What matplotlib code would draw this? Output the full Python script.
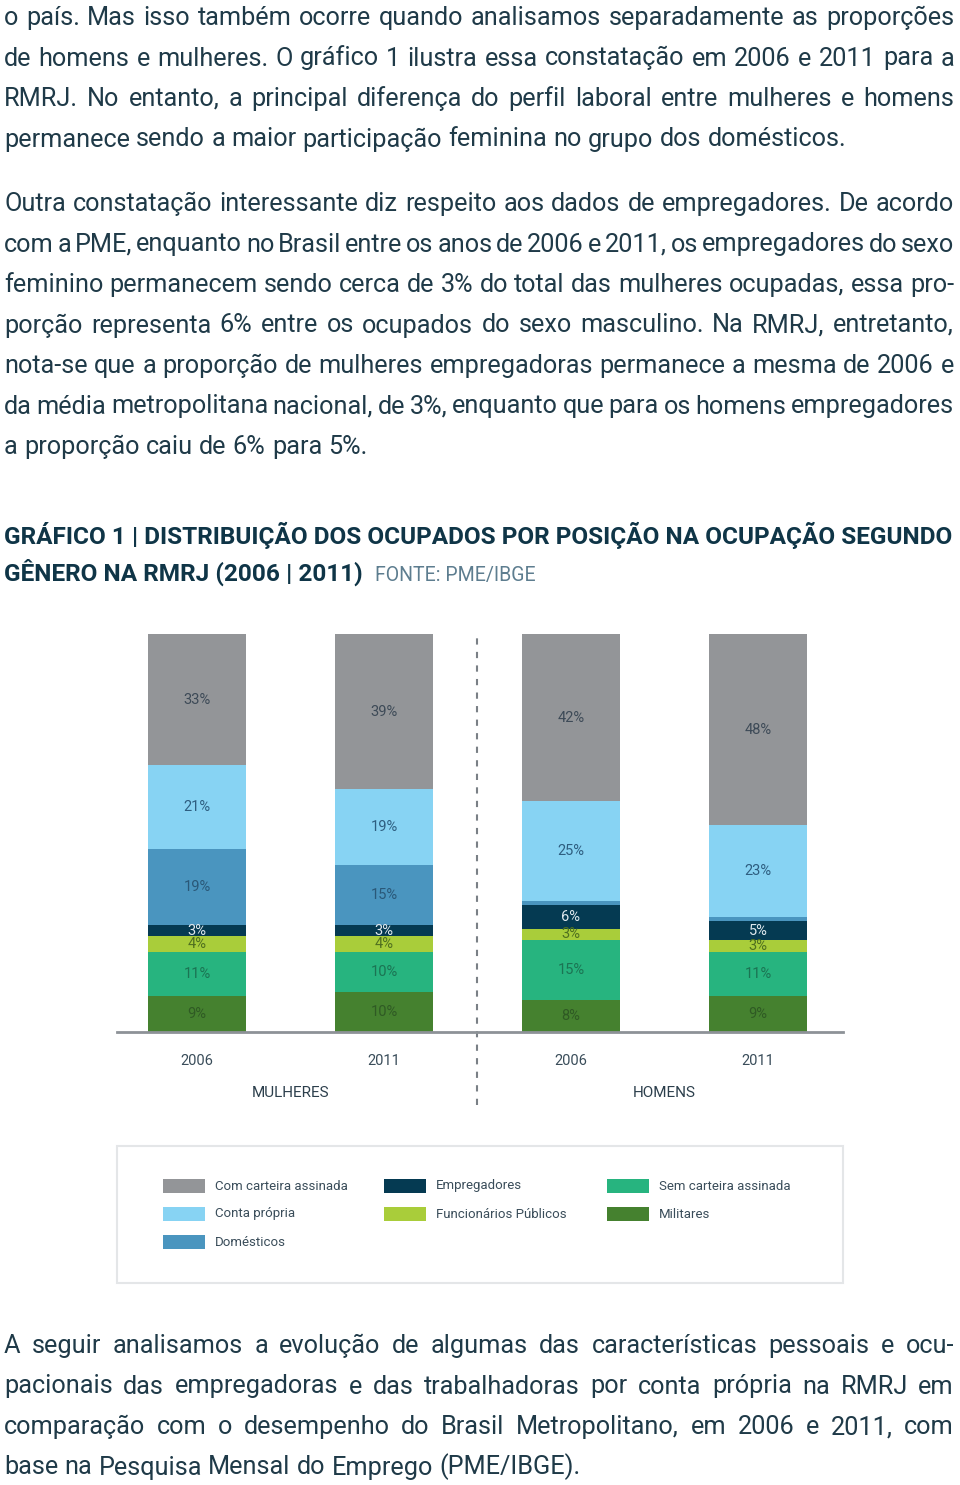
import matplotlib.pyplot as plt
from matplotlib.patches import Rectangle
import numpy as np

# --- data ---
years = ["2006", "2011", "2006", "2011"]
groups = ["MULHERES", "HOMENS"]
categories = ["Militares", "Sem carteira assinada", "Funcionários Públicos",
              "Empregadores", "Domésticos", "Conta própria", "Com carteira assinada"]
militares   = [9, 10, 8, 9]
sem_cart    = [11, 10, 15, 11]
func_pub    = [4, 4, 3, 3]
empregador  = [3, 3, 6, 5]
domesticos  = [19, 15, 1, 1]
conta_prop  = [21, 19, 25, 23]
com_cart    = [33, 39, 42, 48]
series = [militares, sem_cart, func_pub, empregador, domesticos, conta_prop, com_cart]

colors = ["#45812f", "#27b47f", "#a9cd3a", "#053a52", "#4a95bf", "#87d3f3", "#939598"]
lab_colors = ["#2f5a24", "#1b7453", "#50701f", "#dfe8ee", "#2a5878", "#2e5e80", "#3d4a57"]

legend_order = ["Com carteira assinada", "Conta própria", "Domésticos",
                "Empregadores", "Funcionários Públicos",
                "Sem carteira assinada", "Militares"]

para1 = ["o país. Mas isso também ocorre quando analisamos separadamente as proporções",
         "de homens e mulheres. O gráfico 1 ilustra essa constatação em 2006 e 2011 para a",
         "RMRJ. No entanto, a principal diferença do perfil laboral entre mulheres e homens",
         "permanece sendo a maior participação feminina no grupo dos domésticos."]
para2 = ["Outra constatação interessante diz respeito aos dados de empregadores. De acordo",
         "com a PME, enquanto no Brasil entre os anos de 2006 e 2011, os empregadores do sexo",
         "feminino permanecem sendo cerca de 3% do total das mulheres ocupadas, essa pro-",
         "porção representa 6% entre os ocupados do sexo masculino. Na RMRJ, entretanto,",
         "nota-se que a proporção de mulheres empregadoras permanece a mesma de 2006 e",
         "da média metropolitana nacional, de 3%, enquanto que para os homens empregadores",
         "a proporção caiu de 6% para 5%."]
para3 = ["A seguir analisamos a evolução de algumas das características pessoais e ocu-",
         "pacionais das empregadoras e das trabalhadoras por conta própria na RMRJ em",
         "comparação com o desempenho do Brasil Metropolitano, em 2006 e 2011, com",
         "base na Pesquisa Mensal do Emprego (PME/IBGE)."]
title1 = "GRÁFICO 1 | DISTRIBUIÇÃO DOS OCUPADOS POR POSIÇÃO NA OCUPAÇÃO SEGUNDO"
title2 = "GÊNERO NA RMRJ (2006 | 2011)"
fonte = "FONTE: PME/IBGE"

W, H = 960, 1485
TXT = "#1f3a48"
plt.rcParams["font.family"] = ["Roboto", "DejaVu Sans"]

fig = plt.figure(figsize=(W / 100, H / 100), dpi=100)
r = fig.canvas.get_renderer()


def fx(x):
    return x / W


def fy(y):
    return 1 - y / H


def paragraph(lines, y0, step=40.5, size=18.2, x0=4, x1=954):
    for k, line in enumerate(lines):
        words = line.split(" ")
        ts = [fig.text(0, 0, w, fontsize=size, color=TXT, va="baseline") for w in words]
        ws = [t.get_window_extent(r).width for t in ts]
        last = k == len(lines) - 1
        if last or len(words) < 2:
            gap = fig.text(0, 0, "a a", fontsize=size).get_window_extent(r).width \
                - 2 * fig.text(0, 0, "a", fontsize=size).get_window_extent(r).width
            fig.texts[-2:] = []
        else:
            gap = (x1 - x0 - sum(ws)) / (len(words) - 1)
        x = x0
        for t, w in zip(ts, ws):
            t.set_position((fx(x), fy(y0 + k * step)))
            x += w + gap


paragraph(para1, 25)
paragraph(para2, 211)
paragraph(para3, 1353)

# title, fitted to the column width
tfam = ["Roboto", "DejaVu Sans"]
t1 = fig.text(fx(4), fy(544), title1, fontsize=20, fontweight="bold",
              color="#0f3547", family=tfam, va="baseline")
tw = t1.get_window_extent(r).width
tsize = 20 * 950 / tw
t1.set_fontsize(tsize)
t2 = fig.text(fx(4), fy(581), title2, fontsize=tsize, fontweight="bold",
              color="#0f3547", family=tfam, va="baseline")
x2 = 4 + t2.get_window_extent(r).width + 12
fig.text(fx(x2), fy(581), fonte, fontsize=tsize * 0.8, color="#5d7d8f",
         family=tfam, va="baseline")

# --- chart ---
ax = fig.add_axes([fx(117), fy(1032), fx(843 - 117), (1032 - 634) / H])
xpos = np.arange(len(years))
bottom = np.zeros(len(years))
for vals, c, lc in zip(series, colors, lab_colors):
    vals = np.array(vals)
    ax.bar(xpos, vals, bottom=bottom, width=0.524, color=c, linewidth=0)
    for x, b, v in zip(xpos, bottom, vals):
        if v >= 2:
            ax.text(x, b + v / 2, f"{v}%", ha="center", va="center",
                    fontsize=10.5, color=lc)
    bottom += vals

ax.set_xlim(-80 / 187, 646 / 187)
ax.set_ylim(0, 100)
ax.set_yticks([])
ax.set_xticks(xpos, years)
ax.tick_params(axis="x", length=0, pad=16, labelsize=10.5, labelcolor="#3a4d5a")
for s in ["top", "right", "left"]:
    ax.spines[s].set_visible(False)
ax.spines["bottom"].set_color("#8d9297")
ax.spines["bottom"].set_linewidth(2)
ax.axvline(1.5, ymin=-73 / 398, ymax=1, color="#7a8086", lw=1.5,
           linestyle=(0, (3, 3.5)), clip_on=False)
for i, g in enumerate(groups):
    ax.text(0.5 + 2 * i, -61 / 398 * 100, g, ha="center", va="center",
            fontsize=11, color="#2c3f4c")

# --- legend box ---
fig.patches.append(Rectangle((fx(117), fy(1283)), fx(726), 137 / H,
                             transform=fig.transFigure, fill=False,
                             edgecolor="#e4e6e8", lw=1.5))
cols_x = [163, 384, 607]
col_size = [3, 2, 2]
k = 0
for ci, n in enumerate(col_size):
    for ri in range(n):
        name = legend_order[k]
        c = colors[categories.index(name)]
        yc = 1186 + ri * 28
        fig.patches.append(Rectangle((fx(cols_x[ci]), fy(yc + 7)), fx(42), 14 / H,
                                     transform=fig.transFigure, color=c, lw=0))
        fig.text(fx(cols_x[ci] + 52), fy(yc), name, fontsize=9.5,
                 color="#3a4d5a", va="center")
        k += 1

fig.savefig("out.png", dpi=100)
